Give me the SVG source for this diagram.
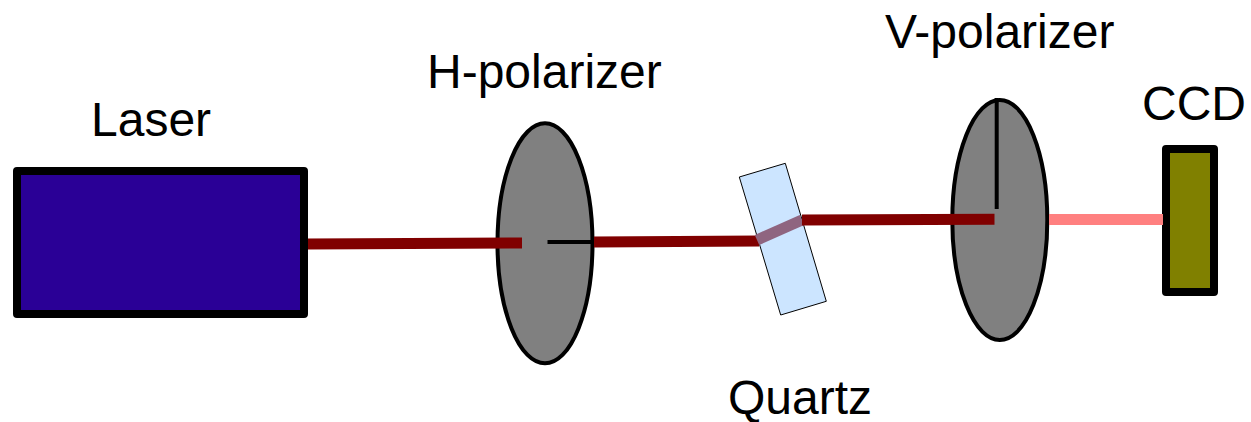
<svg xmlns="http://www.w3.org/2000/svg" width="1251" height="422" viewBox="0 0 1251 422">
<style>
text{font-family:"Liberation Sans",Arial,sans-serif;font-size:48px;fill:#000}
.lens{fill:#808080;stroke:#000;stroke-width:4}
.beam{fill:none;stroke:#800000;stroke-width:11}
.axis{fill:none;stroke:#000;stroke-width:4}
.box{stroke:#000;stroke-width:8;stroke-linejoin:round}
</style>
<rect width="1251" height="422" fill="#fff"/>
<g id="laser"><rect class="box" x="17" y="171" width="287" height="143" fill="#2a0096"/><text x="91" y="136">Laser</text></g>
<g id="h-polarizer"><ellipse class="lens" cx="545" cy="243.3" rx="47.5" ry="120"/><text x="427" y="88">H-polarizer</text></g>
<g id="quartz"><polygon points="739.3,177 785.3,163.3 826.3,301.3 780.7,315" fill="#cce5ff" stroke="#000" stroke-width="1"/><text x="728" y="414">Quartz</text></g>
<g id="v-polarizer"><ellipse class="lens" cx="999.8" cy="220" rx="47.5" ry="120"/><text x="885" y="48">V-polarizer</text></g>
<g id="ccd"><rect class="box" x="1166" y="149" width="48" height="143" fill="#808000"/><text x="1142" y="119.5">CCD</text></g>
<g id="connectors">
<path class="beam" d="M308 244L522 243"/>
<path class="beam" d="M594 242L759 241"/>
<path d="M757 240L802 220" fill="none" stroke="#8f6580" stroke-width="11"/>
<path class="beam" d="M802 220L994.5 219.3"/>
<path d="M1049 219.5H1163" fill="none" stroke="#ff8080" stroke-width="11"/>
<path class="axis" d="M547.5 242H594"/>
<path class="axis" d="M996.7 98V209"/>
</g>
</svg>
